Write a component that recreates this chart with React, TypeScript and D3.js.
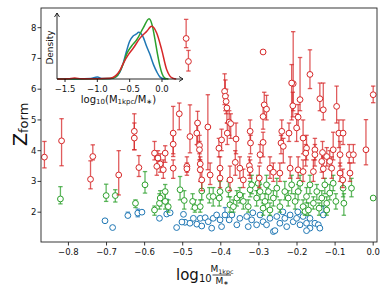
import React from "react";
import * as d3 from "d3";

const xTicks = [-0.8, -0.7, -0.6, -0.5, -0.4, -0.3, -0.2, -0.1, 0.0];
const yTicks = [2, 3, 4, 5, 6, 7, 8];
const insetTicks = [-1.5, -1.0, -0.5, 0.0];

// [x, y, lo, hi]
const redPoints: number[][] = [
  [-0.863, 3.79, 3.44, 4.3], [-0.818, 4.32, 3.51, 5.04], [-0.742, 3.07, 2.76, 3.67],
  [-0.736, 3.81, 3.7, 4.19], [-0.668, 3.21, 2.56, 4.0], [-0.627, 4.63, 4.03, 5.2],
  [-0.627, 4.41, 4.03, 4.9], [-0.615, 3.45, 3.16, 3.84], [-0.574, 3.92, 3.7, 4.3],
  [-0.565, 3.76, 3.5, 4.0], [-0.559, 3.57, 3.3, 3.9], [-0.546, 3.92, 3.62, 4.16],
  [-0.525, 4.57, 3.81, 5.44], [-0.525, 4.21, 3.9, 4.6], [-0.509, 5.2, 4.68, 5.55],
  [-0.481, 4.46, 3.93, 5.49], [-0.461, 4.9, 4.19, 5.28], [-0.463, 4.57, 4.2, 4.9],
  [-0.456, 4.17, 3.9, 4.5], [-0.456, 4.03, 3.7, 4.3], [-0.434, 4.77, 3.38, 5.82],
  [-0.454, 3.57, 3.3, 3.8], [-0.489, 3.49, 3.3, 3.8], [-0.405, 4.08, 3.8, 4.4],
  [-0.398, 4.35, 4.0, 4.7], [-0.39, 5.93, 5.5, 6.5], [-0.388, 5.77, 5.3, 6.3],
  [-0.386, 5.6, 5.2, 6.0], [-0.384, 5.39, 4.9, 5.8], [-0.378, 4.93, 4.5, 5.3],
  [-0.374, 4.88, 4.4, 5.2], [-0.383, 4.57, 4.2, 4.9], [-0.36, 4.38, 3.9, 4.9],
  [-0.362, 3.62, 3.2, 4.0], [-0.323, 4.63, 4.3, 5.0], [-0.322, 4.25, 3.9, 4.5],
  [-0.297, 3.87, 3.6, 4.2], [-0.286, 5.49, 5.1, 5.9], [-0.325, 3.51, 3.2, 3.8],
  [-0.28, 5.35, 5.0, 5.8], [-0.289, 5.11, 4.7, 5.5], [-0.289, 4.27, 3.8, 4.6],
  [-0.211, 5.46, 5.1, 5.9], [-0.192, 5.66, 5.3, 7.03], [-0.14, 5.69, 5.3, 6.2],
  [-0.131, 5.33, 5.0, 6.2], [-0.096, 5.44, 4.9, 6.1], [0.0, 5.82, 5.56, 6.1],
  [-0.24, 4.63, 4.2, 5.0], [-0.221, 4.57, 4.3, 4.9], [-0.242, 4.25, 3.9, 4.5],
  [-0.236, 4.14, 3.6, 4.4], [-0.201, 4.74, 4.3, 5.2], [-0.184, 4.41, 3.9, 5.0],
  [-0.175, 4.08, 3.7, 4.5], [-0.177, 3.92, 3.5, 4.2], [-0.153, 4.03, 3.7, 4.4],
  [-0.153, 3.87, 3.5, 4.2], [-0.133, 3.94, 3.6, 4.3], [-0.105, 4.03, 3.7, 4.6],
  [-0.09, 4.57, 4.1, 5.0], [-0.079, 4.57, 4.2, 5.0], [-0.087, 3.87, 3.5, 4.3],
  [-0.063, 3.87, 3.6, 4.2], [-0.052, 3.87, 3.6, 4.2], [-0.019, 4.03, 3.54, 5.01],
  [-0.122, 3.81, 3.5, 4.1], [-0.114, 3.65, 3.4, 4.0], [-0.135, 3.65, 3.3, 3.9],
  [-0.491, 7.65, 7.35, 8.27], [-0.485, 6.9, 6.59, 7.26], [-0.289, 7.21, 7.21, 7.21],
  [-0.21, 6.18, 5.3, 7.87], [-0.214, 6.2, 5.0, 6.8], [-0.166, 6.48, 6.02, 7.28],
  [-0.197, 5.09, 4.7, 5.5],
  [-0.568, 3.49, 3.2, 3.8], [-0.551, 3.38, 3.1, 3.7], [-0.525, 3.43, 3.1, 3.7],
  [-0.489, 3.41, 3.2, 3.6], [-0.454, 3.38, 3.0, 3.7], [-0.45, 3.05, 2.7, 3.4],
  [-0.428, 3.21, 2.9, 3.6], [-0.402, 3.43, 3.1, 3.8], [-0.402, 3.11, 2.8, 3.4],
  [-0.376, 3.05, 2.7, 3.5], [-0.35, 3.43, 3.1, 3.8], [-0.341, 3.05, 2.8, 3.4],
  [-0.323, 3.38, 3.1, 3.7], [-0.299, 3.11, 2.8, 3.5], [-0.271, 3.43, 3.1, 3.8],
  [-0.262, 3.3, 3.0, 3.6], [-0.245, 3.27, 3.0, 3.6], [-0.218, 3.43, 3.1, 3.8],
  [-0.197, 3.38, 3.1, 3.8], [-0.184, 3.32, 3.0, 3.7], [-0.157, 3.32, 3.0, 3.7],
  [-0.131, 3.41, 3.1, 3.8], [-0.109, 3.43, 3.1, 3.8], [-0.087, 3.27, 3.0, 3.6],
  [-0.08, 3.05, 2.8, 3.4], [-0.061, 3.27, 3.0, 3.6],
];

const greenPoints: number[][] = [
  [-0.821, 2.43, 2.27, 2.83], [-0.701, 2.54, 2.35, 2.91], [-0.677, 2.54, 2.33, 2.73],
  [-0.624, 2.29, 2.15, 2.4], [-0.599, 2.89, 2.62, 3.32], [-0.561, 2.29, 2.1, 2.6],
  [-0.574, 2.07, 1.9, 2.2], [-0.559, 2.46, 2.2, 2.7], [-0.546, 2.67, 2.4, 2.9],
  [-0.546, 2.35, 2.1, 2.6], [-0.538, 2.18, 2.0, 2.4], [-0.507, 2.73, 2.4, 3.16],
  [-0.496, 2.38, 2.1, 2.7], [-0.474, 2.35, 2.1, 2.6], [-0.468, 2.15, 2.0, 2.4],
  [-0.45, 2.69, 2.4, 3.0], [-0.454, 2.18, 2.0, 2.4], [-0.43, 2.51, 2.3, 2.8],
  [-0.42, 2.51, 2.2, 2.8], [-0.402, 2.67, 2.4, 3.0], [-0.404, 2.46, 2.2, 2.7],
  [-0.38, 2.73, 2.5, 3.0], [-0.376, 2.24, 2.0, 2.5], [-0.367, 2.18, 2.0, 2.4],
  [-0.358, 2.46, 2.2, 2.7], [-0.35, 2.56, 2.3, 2.8], [-0.341, 2.35, 2.1, 2.6],
  [-0.328, 2.18, 2.0, 2.4], [-0.323, 2.73, 2.5, 3.0], [-0.319, 2.89, 2.6, 3.2],
  [-0.306, 2.46, 2.2, 2.7], [-0.297, 2.67, 2.4, 2.9], [-0.289, 2.13, 1.9, 2.3],
  [-0.302, 2.94, 2.7, 3.2], [-0.28, 2.89, 2.6, 3.2], [-0.275, 2.67, 2.4, 2.9],
  [-0.284, 2.35, 2.1, 2.6], [-0.262, 2.46, 2.2, 2.7], [-0.253, 2.78, 2.5, 3.1],
  [-0.245, 2.18, 2.0, 2.4], [-0.232, 2.67, 2.4, 3.0], [-0.223, 2.46, 2.2, 2.7],
  [-0.214, 2.89, 2.6, 3.2], [-0.205, 2.35, 2.1, 2.6], [-0.197, 2.67, 2.4, 2.9],
  [-0.192, 2.94, 2.7, 3.2], [-0.184, 2.18, 2.0, 2.4], [-0.175, 2.51, 2.3, 2.8],
  [-0.166, 2.89, 2.6, 3.2], [-0.157, 2.29, 2.1, 2.5], [-0.148, 2.67, 2.4, 2.9],
  [-0.142, 2.13, 1.9, 2.3], [-0.135, 2.46, 2.2, 2.7], [-0.127, 2.89, 2.6, 3.1],
  [-0.122, 2.29, 2.1, 2.5], [-0.114, 2.62, 2.4, 2.9], [-0.105, 2.94, 2.7, 3.2],
  [-0.098, 2.35, 2.1, 2.6], [-0.079, 2.78, 2.5, 3.1], [-0.077, 2.29, 1.9, 2.6],
  [0.0, 2.46, 2.46, 2.46], [-0.179, 2.02, 1.9, 2.2], [-0.17, 2.07, 1.9, 2.3],
  [-0.122, 2.07, 1.9, 2.3], [-0.271, 2.07, 1.9, 2.3], [-0.057, 2.78, 2.5, 3.1],
];

const bluePoints: number[][] = [
  [-0.704, 1.72, 1.72, 1.72], [-0.684, 1.5, 1.5, 1.5], [-0.644, 1.89, 1.85, 2.0],
  [-0.618, 1.97, 1.85, 2.1], [-0.607, 2.0, 2.0, 2.0], [-0.561, 1.8, 1.8, 1.8],
  [-0.542, 1.94, 1.9, 2.42], [-0.516, 1.5, 1.5, 1.5], [-0.498, 1.93, 1.93, 1.93],
  [-0.494, 1.67, 1.67, 1.67], [-0.481, 1.64, 1.64, 1.64], [-0.472, 1.8, 1.8, 1.8],
  [-0.463, 1.61, 1.61, 1.61], [-0.45, 1.55, 1.55, 1.55], [-0.454, 1.8, 1.8, 1.8],
  [-0.441, 1.82, 1.82, 1.82], [-0.433, 1.69, 1.69, 1.69], [-0.424, 1.48, 1.48, 1.48],
  [-0.42, 1.8, 1.8, 1.8], [-0.411, 1.91, 1.91, 1.91], [-0.402, 1.75, 1.75, 1.75],
  [-0.398, 1.53, 1.53, 1.53], [-0.389, 1.91, 1.85, 2.15], [-0.378, 1.75, 1.75, 1.75],
  [-0.371, 1.91, 1.91, 1.91], [-0.358, 1.59, 1.59, 1.59], [-0.35, 1.8, 1.8, 1.8],
  [-0.332, 1.86, 1.86, 1.86], [-0.328, 1.53, 1.53, 1.53], [-0.319, 1.75, 1.75, 1.75],
  [-0.306, 1.59, 1.59, 1.59], [-0.297, 1.91, 1.91, 1.91], [-0.289, 1.69, 1.69, 1.69],
  [-0.28, 1.59, 1.59, 1.59], [-0.271, 1.8, 1.8, 1.8], [-0.262, 1.37, 1.37, 1.37],
  [-0.253, 1.86, 1.86, 1.86], [-0.245, 1.64, 1.64, 1.64], [-0.232, 1.8, 1.8, 1.8],
  [-0.227, 1.53, 1.53, 1.53], [-0.218, 1.91, 1.91, 1.91], [-0.21, 1.69, 1.69, 1.69],
  [-0.201, 1.8, 1.8, 1.8], [-0.192, 1.59, 1.59, 1.59], [-0.184, 1.86, 1.86, 1.86],
  [-0.175, 1.64, 1.64, 1.64], [-0.166, 1.8, 1.8, 1.8], [-0.166, 1.48, 1.48, 1.48],
  [-0.153, 1.64, 1.64, 1.64], [-0.144, 1.59, 1.59, 1.59], [-0.131, 1.91, 1.85, 2.2],
  [-0.258, 1.4, 1.4, 1.4], [-0.175, 1.4, 1.4, 1.4], [-0.533, 1.98, 1.98, 1.98],
  [-0.502, 1.68, 1.68, 1.68], [-0.316, 1.98, 1.98, 1.98], [-0.237, 2.01, 2.01, 2.01],
  [-0.198, 2.01, 2.01, 2.01], [-0.14, 1.48, 1.48, 1.48],
];

// inset density curves [x, density]
const blueDensity: number[][] = [
  [-1.62, 0], [-1.3, 0], [-1.1, 0.03], [-1.0, 0.12], [-0.92, 0.03], [-0.8, 0.03],
  [-0.72, 0.12], [-0.65, 0.45], [-0.6, 1.0], [-0.55, 1.75], [-0.5, 2.4], [-0.45, 2.72],
  [-0.4, 2.85], [-0.36, 2.97], [-0.3, 2.75], [-0.24, 2.1], [-0.19, 1.6], [-0.13, 0.9],
  [-0.08, 0.45], [-0.03, 0.12], [0.02, 0.02], [0.06, 0],
];
const greenDensity: number[][] = [
  [-1.62, 0], [-1.0, 0.02], [-0.8, 0.03], [-0.72, 0.12], [-0.65, 0.5], [-0.6, 0.95],
  [-0.546, 1.6], [-0.47, 2.1], [-0.39, 2.5], [-0.29, 3.25], [-0.2, 3.84], [-0.15, 3.4],
  [-0.108, 2.5], [-0.07, 1.6], [-0.031, 0.8], [0.0, 0.35], [0.046, 0.05], [0.1, 0],
];
const redDensity: number[][] = [
  [-1.62, 0], [-1.45, 0.02], [-1.35, 0.06], [-1.25, 0.02], [-1.0, 0.02], [-0.8, 0.05],
  [-0.72, 0.2], [-0.65, 0.55], [-0.598, 1.0], [-0.52, 1.55], [-0.443, 1.97],
  [-0.34, 2.6], [-0.237, 3.03], [-0.16, 3.35], [-0.082, 2.93], [-0.005, 1.87],
  [0.072, 0.6], [0.12, 0.2], [0.175, 0.04], [0.22, 0],
];

const BLUE = "#1f77b4";
const GREEN = "#2ca02c";
const RED = "#d62728";
const FONT = "DejaVu Sans";

export default function App() {
  const x = d3.scaleLinear().domain([-0.872, 0.01]).range([41, 377]);
  const y = d3.scaleLinear().domain([1.03, 8.64]).range([242, 8]);
  const ix = d3.scaleLinear().domain([-1.624, 0.325]).range([57, 183]);
  const iy = d3.scaleLinear().domain([0, 4.2]).range([79, 13]);
  const fmt = d3.format(".1f");
  const line = d3
    .line<number[]>()
    .x((d) => ix(d[0]))
    .y((d) => iy(d[1]))
    .curve(d3.curveMonotoneX);

  const series = [
    { pts: bluePoints, color: BLUE },
    { pts: greenPoints, color: GREEN },
    { pts: redPoints, color: RED },
  ];

  return (
    <svg
      width={390}
      height={293}
      style={{ position: "absolute", left: 0, top: 0 }}
      fontFamily={FONT}
    >
      <rect x={0} y={0} width={390} height={293} fill="#fff" />
      {series.map((s, si) => (
        <g key={si}>
          {s.pts.map((p, i) =>
            p[3] - p[2] > 0.001 ? (
              <g key={i} stroke={s.color} strokeOpacity={0.75} strokeWidth={1.3}>
                <line x1={x(p[0])} x2={x(p[0])} y1={y(p[2])} y2={y(p[3])} />
                <line x1={x(p[0]) - 2.2} x2={x(p[0]) + 2.2} y1={y(p[2])} y2={y(p[2])} />
                <line x1={x(p[0]) - 2.2} x2={x(p[0]) + 2.2} y1={y(p[3])} y2={y(p[3])} />
              </g>
            ) : null
          )}
          {s.pts.map((p, i) => (
            <circle
              key={"c" + i}
              cx={x(p[0])}
              cy={y(p[1])}
              r={2.9}
              fill="#fff"
              stroke={s.color}
              strokeWidth={1}
            />
          ))}
        </g>
      ))}

      {/* main axes */}
      <rect x={41} y={8} width={336} height={234} fill="none" stroke="#222" strokeWidth={0.9} />
      {xTicks.map((t) => (
        <g key={t}>
          <line x1={x(t)} x2={x(t)} y1={242} y2={245.5} stroke="#222" strokeWidth={0.9} />
          <text x={x(t)} y={254.5} fontSize={8.5} textAnchor="middle" fill="#111">
            {t === 0 ? "0.0" : fmt(t)}
          </text>
        </g>
      ))}
      {yTicks.map((t) => (
        <g key={t}>
          <line x1={37.5} x2={41} y1={y(t)} y2={y(t)} stroke="#222" strokeWidth={0.9} />
          <text x={36.3} y={y(t) + 3} fontSize={8.5} textAnchor="end" fill="#111">
            {t}
          </text>
        </g>
      ))}

      {/* y label */}
      <text transform="translate(27.3,146) rotate(-90)" fontSize={19} fill="#111">
        Z<tspan fontSize={13} dy={1}>form</tspan>
      </text>

      {/* x label */}
      <text x={176} y={280} fontSize={15} fill="#111">
        log<tspan fontSize={10} dy={2}>10</tspan>
      </text>
      <text x={222} y={272.3} fontSize={9} textAnchor="middle" fill="#111">
        M<tspan fontSize={6.3} dy={1.5}>1kpc</tspan>
      </text>
      <line x1={212.5} x2={231} y1={275} y2={275} stroke="#111" strokeWidth={0.8} />
      <text x={222} y={283.5} fontSize={9} textAnchor="middle" fill="#111">
        M<tspan fontSize={6.3} dy={1.5}>∗</tspan>
      </text>

      {/* inset */}
      <path d={line(blueDensity) || ""} fill="none" stroke={BLUE} strokeWidth={1.5} />
      <path d={line(greenDensity) || ""} fill="none" stroke={GREEN} strokeWidth={1.5} />
      <path d={line(redDensity) || ""} fill="none" stroke={RED} strokeWidth={1.5} />
      <g stroke="#111" strokeWidth={0.9} fill="none">
        <line x1={57} x2={57} y1={79} y2={13} />
        <line x1={57} x2={183} y1={79} y2={79} />
        <path d="M54.5,17 L57,13 L59.5,17" />
        <path d="M179,76.5 L183,79 L179,81.5" />
      </g>
      {insetTicks.map((t) => (
        <g key={t}>
          <line x1={ix(t)} x2={ix(t)} y1={79} y2={82} stroke="#111" strokeWidth={0.9} />
          <text x={ix(t)} y={92} fontSize={8.5} textAnchor="middle" fill="#111">
            {t === 0 ? "0.0" : fmt(t)}
          </text>
        </g>
      ))}
      <text transform="translate(53,47.5) rotate(-90)" fontSize={9} textAnchor="middle" fill="#111">
        Density
      </text>
      <text x={118.5} y={102.5} fontSize={10} textAnchor="middle" fill="#111">
        log<tspan fontSize={7} dy={1.5}>10</tspan>
        <tspan dy={-1.5}>(M</tspan>
        <tspan fontSize={7} dy={1.5}>1kpc</tspan>
        <tspan dy={-1.5}>/M</tspan>
        <tspan fontSize={7} dy={1.5}>∗</tspan>
        <tspan dy={-1.5}>)</tspan>
      </text>
    </svg>
  );
}
